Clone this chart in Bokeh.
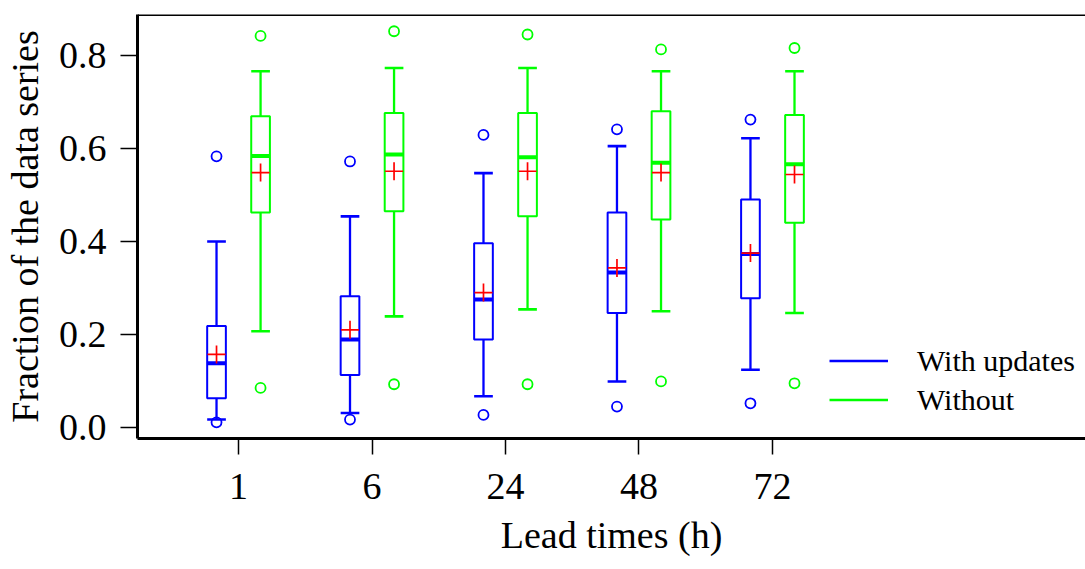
import numpy as np
from bokeh.plotting import figure
from bokeh.models import (ColumnDataSource, Range1d, FixedTicker, PrintfTickFormatter,
                          Legend, LegendItem, Span)
from bokeh.embed import file_html
from bokeh.resources import INLINE

# ---- data ----
lead_times = ["1", "6", "24", "48", "72"]

upd_whisker_low = [0.017, 0.031, 0.067, 0.099, 0.124]
upd_q1 = [0.063, 0.113, 0.189, 0.246, 0.278]
upd_median = [0.138, 0.189, 0.275, 0.333, 0.373]
upd_q3 = [0.218, 0.282, 0.396, 0.462, 0.490]
upd_whisker_high = [0.400, 0.454, 0.547, 0.605, 0.622]
upd_mean = [0.157, 0.210, 0.290, 0.343, 0.375]
upd_outlier_low = [0.011, 0.017, 0.027, 0.045, 0.052]
upd_outlier_high = [0.583, 0.572, 0.629, 0.641, 0.662]

wo_whisker_low = [0.207, 0.239, 0.254, 0.250, 0.246]
wo_q1 = [0.462, 0.465, 0.454, 0.447, 0.440]
wo_median = [0.584, 0.587, 0.581, 0.569, 0.566]
wo_q3 = [0.669, 0.676, 0.676, 0.680, 0.672]
wo_whisker_high = [0.766, 0.773, 0.773, 0.766, 0.766]
wo_mean = [0.548, 0.551, 0.551, 0.548, 0.544]
wo_outlier_low = [0.085, 0.093, 0.093, 0.099, 0.095]
wo_outlier_high = [0.842, 0.852, 0.845, 0.813, 0.816]

FONT = "Liberation Serif"
BLUE = "#0000FF"
GREEN = "#00FF00"
RED = "#FF0000"

Y_END = 0.888

p = figure(width=1085, height=569, output_backend="svg", toolbar_location=None,
           x_range=Range1d(0.243, 7.345), y_range=Range1d(-0.0237, Y_END),
           min_border_left=137, min_border_right=0, min_border_top=14, min_border_bottom=131)
p.outline_line_color = None
p.grid.visible = False
p.background_fill_color = "white"
p.border_fill_color = "white"

pos = np.arange(1, len(lead_times) + 1)
half = 0.07
offset = 0.165


def draw_boxes(x, wlo, q1, med, q3, whi, mean, olo, ohi, color):
    x = np.asarray(x, dtype=float)
    src = ColumnDataSource(dict(x=x, xl=x - half, xr=x + half, wlo=wlo, q1=q1, med=med,
                                q3=q3, whi=whi, mean=mean))
    r = p.segment(x0="x", y0="q3", x1="x", y1="whi", source=src, line_color=color, line_width=2.3)
    p.segment(x0="x", y0="q1", x1="x", y1="wlo", source=src, line_color=color, line_width=2.3)
    p.segment(x0="xl", y0="whi", x1="xr", y1="whi", source=src, line_color=color, line_width=2.6)
    p.segment(x0="xl", y0="wlo", x1="xr", y1="wlo", source=src, line_color=color, line_width=2.6)
    p.vbar(x="x", top="q3", bottom="q1", width=2 * half, source=src, fill_color="white",
           line_color=color, line_width=2)
    p.segment(x0="xl", y0="med", x1="xr", y1="med", source=src, line_color=color, line_width=4)
    p.scatter(x="x", y="mean", source=src, marker="cross", size=18, line_color=RED, line_width=1.7)
    osrc = ColumnDataSource(dict(x=np.concatenate([x, x]), y=list(olo) + list(ohi)))
    p.scatter(x="x", y="y", source=osrc, marker="circle", size=10, fill_color=None,
              line_color=color, line_width=1.8)
    return r


r_upd = draw_boxes(pos - offset, upd_whisker_low, upd_q1, upd_median, upd_q3, upd_whisker_high,
                   upd_mean, upd_outlier_low, upd_outlier_high, BLUE)
r_wo = draw_boxes(pos + offset, wo_whisker_low, wo_q1, wo_median, wo_q3, wo_whisker_high,
                  wo_mean, wo_outlier_low, wo_outlier_high, GREEN)

# legend
legend = Legend(items=[LegendItem(label="With updates", renderers=[r_upd]),
                       LegendItem(label="Without", renderers=[r_wo])],
                location=(692, 19), glyph_width=59, glyph_height=39, label_height=39,
                label_standoff=29, padding=0, margin=0, spacing=0,
                border_line_color=None, background_fill_alpha=0,
                label_text_font=FONT, label_text_font_size="30px", label_text_color="black")
p.add_layout(legend)

# top border of the frame
p.add_layout(Span(location=Y_END, dimension="width", line_color="black", line_width=3))

# axes
xa = p.xaxis[0]
xa.ticker = FixedTicker(ticks=list(pos))
xa.major_label_overrides = {int(i): s for i, s in zip(pos, lead_times)}
xa.axis_label = "Lead times (h)"
xa.minor_tick_line_color = None
xa.major_tick_in = 0
xa.major_tick_out = 16
xa.major_tick_line_width = 1.5
xa.major_label_standoff = 19
xa.axis_label_standoff = 12
xa.axis_line_width = 3

ya = p.yaxis[0]
ya.ticker = FixedTicker(ticks=[0.0, 0.2, 0.4, 0.6, 0.8])
ya.formatter = PrintfTickFormatter(format="%.1f")
ya.axis_label = "Fraction of the data series"
ya.minor_tick_line_color = None
ya.major_tick_in = 0
ya.major_tick_out = 17
ya.major_tick_line_width = 1.5
ya.major_label_standoff = 14
ya.axis_label_standoff = 10
ya.axis_line_width = 3

for ax in (xa, ya):
    ax.major_label_text_font = FONT
    ax.major_label_text_font_size = "38px"
    ax.major_label_text_color = "black"
    ax.axis_label_text_font = FONT
    ax.axis_label_text_font_size = "38px"
    ax.axis_label_text_font_style = "normal"
    ax.axis_label_text_color = "black"
    ax.axis_line_color = "black"
    ax.major_tick_line_color = "black"

open("out.html", "w").write(file_html(p, INLINE))
